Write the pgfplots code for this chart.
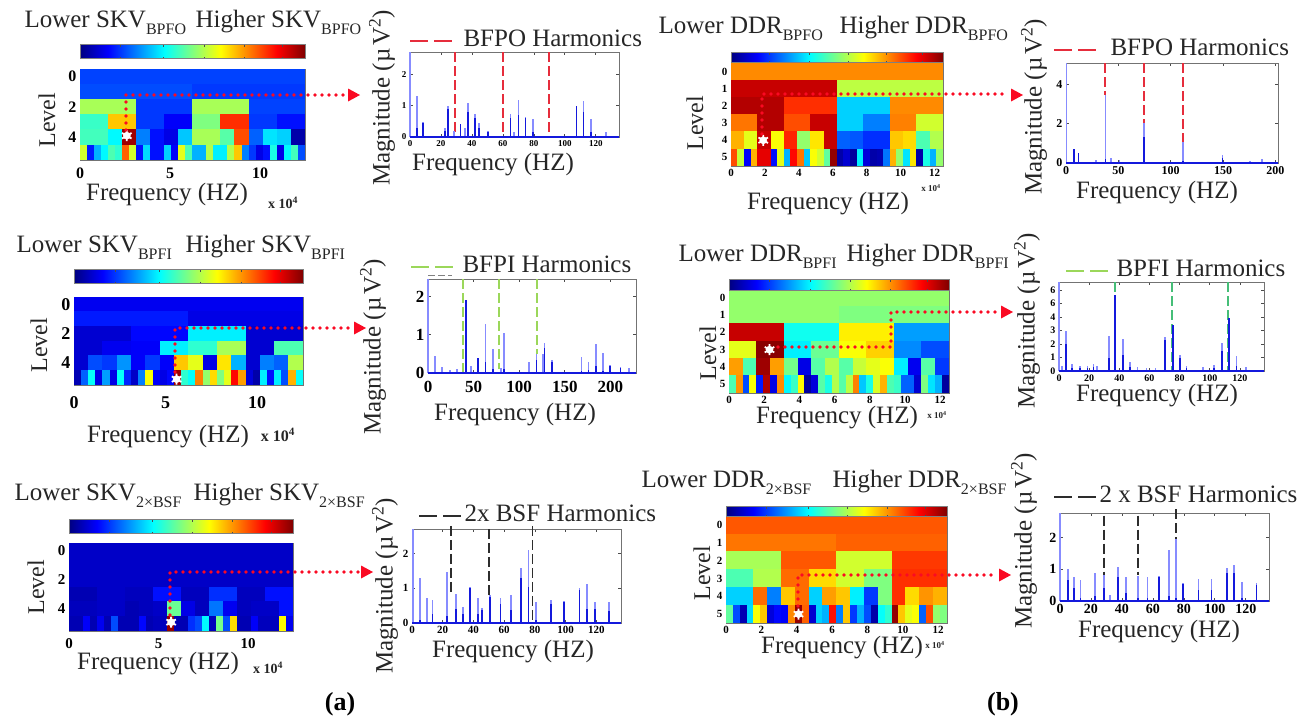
\documentclass[border=0pt]{standalone}
\usepackage{fontspec}
\setmainfont{Liberation Serif}
\usepackage{pgfplots}
\pgfplotsset{compat=1.18}
\newdimen\cw \newdimen\chh
\newcommand\tf[1]{\bfseries\fontsize{#1}{#1}\selectfont}
\newcommand\fs[1]{\fontsize{#1}{#1}\selectfont}
\newcommand\defcell[1]{\pgfdeclareplotmark{cell#1}{\pgfpathrectangle{\pgfpoint{-\cw/(2*#1)-0.2pt}{-\chh/2-0.2pt}}{\pgfpoint{\cw/#1+0.4pt}{\chh+0.4pt}}\pgfusepathqfill}}
\defcell{1}\defcell{2}\defcell{4}\defcell{8}\defcell{16}\defcell{32}
\newcommand\setcell[4]{\global\cw=\numexpr#3-#1\relax pt \global\chh=\dimexpr\numexpr#4-#2\relax pt/6\relax}
\newcommand\krow[3]{\addplot[scatter,only marks,mark=cell#2,point meta=explicit] table[row sep=\\,header=false,x expr={(\coordindex+0.5)*12.5/#2},y expr=#1,meta index=0]{#3};}
\newcommand\starat[2]{\addplot[only marks,mark=*,white,mark size=3.6pt] coordinates {(#1,#2)};\addplot[only marks,mark=asterisk,mark options={white,line width=1.8pt},mark size=5.5pt] coordinates {(#1,#2)};}
\pgfplotsset{
 allax/.style={scale only axis,enlargelimits=false,tick align=inside,major tick length=3pt,
   axis line style={line width=.9pt,draw=black!55},tick style={line width=.7pt,black!70},
   /pgf/number format/assume math mode=true},
 heat/.style n args={6}{allax,anchor=south west,at={(#1pt,-#4pt)},width={\the\numexpr#3-#1\relax pt},height={\the\numexpr#4-#2\relax pt},
   xmin=0,xmax=12.5,ymin=-0.5,ymax=5.5,y dir=reverse,colormap/jet,point meta min=0,point meta max=1,
   colorbar horizontal,colorbar style={scale only axis,at={(parent axis.north west)},anchor=south west,yshift=#6pt,
     width={\the\numexpr#3-#1\relax pt},height=#5pt,xtick={0.18,0.37,0.55,0.73,0.9},xticklabels={},ytick=\empty,
     axis line style={line width=.6pt,draw=black!50},major tick length=2pt,tick align=inside,tick style={black!70}}},
 spec/.style n args={6}{allax,anchor=south west,at={(#1pt,-#4pt)},width={\the\numexpr#3-#1\relax pt},height={\the\numexpr#4-#2\relax pt},
   xmin=0,xmax=#5,ymin=0,ymax=#6,clip=false},
}
\definecolor{lightb}{RGB}{135,140,255}
\definecolor{darkb}{RGB}{20,25,220}
\definecolor{hred}{RGB}{230,45,60}
\definecolor{hgreen}{RGB}{155,215,90}
\definecolor{hteal}{RGB}{70,190,120}
\definecolor{hblack}{RGB}{45,45,45}
\definecolor{arrowred}{RGB}{250,10,35}
\newcommand\lightsp[1]{\addplot[ycomb,no marks,lightb,line width=1.7pt] coordinates {#1};}
\newcommand\darksp[1]{\addplot[ycomb,no marks,darkb,line width=1.7pt] coordinates {#1};}
\newcommand\bline[1]{\addplot[no marks,darkb,line width=2.4pt] coordinates {(0,0.0)(#1,0.0)};}
\newcommand\harm[2]{\addplot[no marks,#1,line width=1.9pt,dash pattern=on 10pt off 4pt] coordinates {#2};}
\newcommand\subt[1]{\raisebox{-0.28em}{\fs{16}#1}}
\newcommand\LBL[4]{\node[anchor=base west,font=\fs{25},text=black!85] at (#1,#3) {Lower #4};}
\newcommand\HBL[4]{\node[anchor=base west,font=\fs{25},text=black!85] at (#1,#3) {Higher #4};}
\newcommand\freqt[2]{\node[font=\fs{25},text=black!85] at (#1,#2) {Frequency (HZ)};}
\newcommand\levt[2]{\node[rotate=90,font=\fs{24},text=black!85] at (#1,#2) {Level};}
\newcommand\magt[2]{\node[rotate=90,font=\fs{25},text=black!85] at (#1,#2) {Magnitude (\kern1pt µ\kern2pt V\textsuperscript{2})};}
\newcommand\expot[3]{\node[font=\tf{#3},text=black!85] at (#1,#2) {x 10\textsuperscript{4}};}
\newcommand\hleg[5]{\draw[#3,line width=2.2pt,dash pattern=on 18pt off 6pt] (#1,#2)--+(42,0);\node[anchor=base west,font=\fs{25},text=black!85] at (#4,#2+5) {#5};}
\newcommand\dotarrow[2]{\draw[arrowred,line width=3.8pt,line cap=round,dash pattern=on 0pt off 7pt] #1;\fill[arrowred] #2 ++(0,-6.5)--++(12,6.5)--++(-12,6.5)--cycle;}
\begin{document}
\begin{tikzpicture}[x=1pt,y=-1pt]
\path[use as bounding box] (0,0) rectangle (1306,724);

% ---------- A1 SKV BPFO
\setcell{80}{69}{305}{160}
\begin{axis}[heat={80}{69}{305}{160}{14}{19},xtick={0,5,10},ytick={0,2,4},tick label style={font=\tf{16}},xticklabel style={yshift=-4pt}]
\krow{0}{1}{0.19\\}
\krow{1}{2}{0.2\\0.18\\}
\krow{2}{4}{0.54\\0.18\\0.54\\0.19\\}
\krow{3}{8}{0.43\\0.68\\0.18\\0.12\\0.5\\0.83\\0.18\\0.14\\}
\krow{4}{16}{0.44\\0.44\\0.37\\0.97\\0.25\\0.14\\0.1\\0.32\\0.54\\0.54\\0.46\\0.8\\0.22\\0.35\\0.33\\0.04\\}
\krow{5}{32}{0.58\\0.15\\0.3\\0.37\\0.45\\0.42\\0.78\\0.58\\0.14\\0.34\\0.14\\0.14\\0.33\\0.12\\0.6\\0.45\\0.3\\0.3\\0.55\\0.36\\0.36\\0.55\\0.68\\0.25\\0.18\\0.1\\0.14\\0.4\\0.1\\0.37\\0.44\\0.2\\}
\starat{2.6}{3.9}
\end{axis}
% ---------- A2 SKV BPFI
\setcell{74}{297}{303}{385}
\begin{axis}[heat={74}{297}{303}{385}{14}{22},xtick={0,5,10},ytick={0,2,4},tick label style={font=\tf{18}},xticklabel style={yshift=-8pt}]
\krow{0}{1}{0.11\\}
\krow{1}{2}{0.15\\0.1\\}
\krow{2}{4}{0.08\\0.13\\0.36\\0.08\\}
\krow{3}{8}{0.08\\0.11\\0.12\\0.36\\0.42\\0.54\\0.08\\0.45\\}
\krow{4}{16}{0.08\\0.2\\0.18\\0.27\\0.12\\0.18\\0.12\\0.68\\0.6\\0.1\\0.65\\0.3\\0.08\\0.25\\0.22\\0.55\\}
\krow{5}{32}{0.05\\0.22\\0.38\\0.1\\0.28\\0.1\\0.38\\0.16\\0.07\\0.25\\0.62\\0.12\\0.1\\0.13\\0.97\\0.42\\0.38\\0.75\\0.52\\0.66\\0.5\\0.6\\0.87\\0.72\\0.09\\0.04\\0.36\\0.14\\0.36\\0.2\\0.7\\0.38\\}
\starat{5.6}{5.1}
\end{axis}
% ---------- A3 SKV 2xBSF
\setcell{69}{543}{293}{631}
\begin{axis}[heat={69}{543}{293}{631}{14}{18},xtick={0,5,10},ytick={0,2,4},tick label style={font=\tf{15}},xticklabel style={yshift=-4pt}]
\krow{0}{1}{0.07\\}
\krow{1}{2}{0.07\\0.07\\}
\krow{2}{4}{0.07\\0.07\\0.07\\0.07\\}
\krow{3}{8}{0.05\\0.07\\0.06\\0.14\\0.06\\0.17\\0.06\\0.14\\}
\krow{4}{16}{0.06\\0.06\\0.07\\0.07\\0.05\\0.06\\0.07\\0.48\\0.1\\0.06\\0.24\\0.11\\0.06\\0.07\\0.07\\0.14\\}
\krow{5}{32}{0.05\\0.05\\0.12\\0.05\\0.11\\0.05\\0.2\\0.05\\0.05\\0.05\\0.13\\0.05\\0.06\\0.06\\0.98\\0.05\\0.05\\0.17\\0.2\\0.37\\0.06\\0.49\\0.2\\0.66\\0.05\\0.05\\0.12\\0.06\\0.06\\0.06\\0.63\\0.11\\}
\starat{5.7}{4.9}
\end{axis}
% ---------- B1 DDR BPFO
\setcell{731}{63}{943}{166}
\begin{axis}[heat={731}{63}{943}{166}{10}{9},xtick={0,2,...,12},ytick={0,...,5},tick label style={font=\tf{11}}]
\krow{0}{1}{0.74\\}
\krow{1}{2}{0.93\\0.56\\}
\krow{2}{4}{0.95\\0.83\\0.33\\0.74\\}
\krow{3}{8}{0.76\\0.95\\0.8\\0.93\\0.33\\0.25\\0.75\\0.58\\}
\krow{4}{16}{0.7\\0.6\\0.93\\0.62\\0.84\\0.52\\0.65\\0.93\\0.22\\0.21\\0.17\\0.17\\0.68\\0.66\\0.45\\0.55\\}
\krow{5}{32}{0.8\\0.57\\0.12\\0.7\\0.9\\0.9\\0.14\\0.6\\0.3\\0.87\\0.76\\0.32\\0.62\\0.58\\0.47\\0.98\\0.04\\0.08\\0.03\\0.36\\0.09\\0.04\\0.05\\0.24\\0.7\\0.52\\0.35\\0.65\\0.04\\0.4\\0.3\\0.52\\}
\starat{1.9}{4}
\end{axis}
% ---------- B2 DDR BPFI
\setcell{729}{289}{949}{393}
\begin{axis}[heat={729}{289}{949}{393}{11}{7},xtick={0,2,...,12},ytick={0,...,5},tick label style={font=\tf{11}}]
\krow{0}{1}{0.52\\}
\krow{1}{2}{0.52\\0.5\\}
\krow{2}{4}{0.93\\0.39\\0.64\\0.28\\}
\krow{3}{8}{0.6\\0.99\\0.36\\0.48\\0.62\\0.67\\0.26\\0.2\\}
\krow{4}{16}{0.72\\0.45\\0.97\\0.72\\0.49\\0.1\\0.46\\0.55\\0.46\\0.57\\0.6\\0.62\\0.36\\0.11\\0.46\\0.18\\}
\krow{5}{32}{0.45\\0.73\\0.2\\0.62\\0.15\\0.95\\0.1\\0.74\\0.37\\0.43\\0.63\\0.03\\0.09\\0.46\\0.4\\0.55\\0.46\\0.56\\0.75\\0.32\\0.4\\0.59\\0.7\\0.45\\0.43\\0.22\\0.22\\0.08\\0.5\\0.35\\0.3\\0.03\\}
\starat{2.3}{3}
\end{axis}
% ---------- B3 DDR 2xBSF
\setcell{726}{516}{947}{623}
\begin{axis}[heat={726}{516}{947}{623}{10}{8},xtick={0,2,...,12},ytick={0,...,5},tick label style={font=\tf{11}}]
\krow{0}{1}{0.79\\}
\krow{1}{2}{0.76\\0.78\\}
\krow{2}{4}{0.54\\0.79\\0.58\\0.82\\}
\krow{3}{8}{0.45\\0.55\\0.77\\0.66\\0.58\\0.5\\0.83\\0.83\\}
\krow{4}{16}{0.33\\0.33\\0.77\\0.25\\0.68\\0.77\\0.33\\0.72\\0.68\\0.36\\0.18\\0.5\\0.83\\0.66\\0.73\\0.7\\}
\krow{5}{32}{0.47\\0.2\\0.05\\0.34\\0.62\\0.68\\0.09\\0.13\\0.12\\0.74\\0.98\\0.78\\0.08\\0.33\\0.3\\0.86\\0.25\\0.68\\0.18\\0.3\\0.2\\0.04\\0.38\\0.42\\0.98\\0.68\\0.6\\0.62\\0.22\\0.8\\0.52\\0.5\\}
\starat{4.1}{5}
\end{axis}

% ---------- C1
\begin{axis}[spec={410}{52}{619}{137}{135}{2.7},xtick={0,20,...,120},ytick={0,1,2},tick label style={font=\tf{9}}]
\harm{hred}{(28.8,2.7)(28.8,0)}\harm{hred}{(60.2,2.7)(60.2,0)}\harm{hred}{(89.5,2.7)(89.5,0)}
\lightsp{(0.2,2.7)(4.7,1.3)(8.6,0.47)(22.6,0.3)(24.5,0.97)(28.6,0.2)(32.7,0.42)(35.7,0.3)(37.4,1.07)(42,0.73)(44.7,0.45)(50.5,0.2)(65,0.72)(67.3,0.15)(70,1.18)(74.6,0.62)(79.6,0.58)(107.5,1.0)(112,1.13)(117,0.58)(126.5,0.15)}
\darksp{(4.7,0.3)(8.6,0.45)(22.6,0.2)(24.5,0.9)(32.7,0.4)(37.4,0.8)(42,0.6)(44.7,0.3)(50.5,0.15)(65,0.6)(70,0.7)(74.6,0.6)(79.6,0.15)(107.5,0.98)(112,0.8)(117,0.15)}
\bline{135}
\end{axis}
% ---------- C2
\begin{axis}[spec={428}{279}{636}{373}{228}{2.46},xtick={0,50,...,200},ytick={0,1,2},tick label style={font=\tf{17}},xticklabel style={yshift=-5pt}]
\harm{hgreen}{(37.9,2.46)(37.9,0)}\harm{hgreen}{(78.3,2.46)(78.3,0.1)}\harm{hgreen}{(119.5,2.46)(119.5,0.5)}
\lightsp{(0.2,2.46)(7.4,0.45)(15.4,0.15)(24,0.07)(32,0.1)(41.5,1.92)(47.4,0.18)(55,0.4)(62.9,1.27)(71.3,0.63)(80,0.12)(83.5,1.05)(111,0.3)(119,0.5)(126,0.5)(127.6,0.78)(136,0.35)(168.4,0.42)(176,0.28)(183.8,0.77)(191.5,0.52)(199.6,0.22)(211,0.17)(220.6,0.13)}
\darksp{(41.5,1.9)(55,0.38)(62.9,0.3)(71.3,0.1)(83.5,0.1)(119,0.35)(127.6,0.65)(136,0.3)(168.4,0.05)(176,0.08)(183.8,0.18)(191.5,0.05)(199.6,0.18)(211,0.12)(220.6,0.03)}
\bline{228}
\end{axis}
% ---------- C3
\begin{axis}[spec={412}{529}{621}{623}{136}{2.71},xtick={0,20,...,120},ytick={0,1,2},tick label style={font=\tf{11}}]
\harm{hblack}{(25.3,2.8)(25.3,0.9)}\harm{hblack}{(50.3,2.71)(50.3,0.8)}\harm{hblack}{(78.4,2.8)(78.4,0)}
\lightsp{(0.6,2.7)(5.2,1.3)(9.6,0.73)(13.3,0.67)(22.9,1.47)(28.5,0.83)(33,0.45)(37.7,1.03)(42.9,0.72)(45.5,0.42)(50.8,0.8)(57.5,0.72)(64.5,0.8)(70.8,1.58)(75.8,2.1)(80.6,0.6)(90.6,0.66)(99,0.63)(109,1.0)(113.7,1.12)(119,0.62)(128,0.62)}
\darksp{(5.2,0.1)(13.3,0.25)(22.9,0.2)(28.5,0.4)(33,0.25)(37.7,1.0)(42.9,0.25)(45.5,0.38)(50.8,0.75)(57.5,0.55)(64.5,0.38)(70.8,1.3)(75.8,1.05)(80.6,0.1)(90.6,0.55)(99,0.6)(109,0.95)(113.7,0.4)(119,0.4)(128,0.35)}
\bline{136}
\end{axis}
% ---------- D1
\begin{axis}[spec={1066}{63}{1278}{163}{202.5}{5.1},xtick={0,50,...,200},ytick={0,2,4},tick label style={font=\tf{12}}]
\harm{hred}{(37.5,5.1)(37.5,3.45)}\harm{hred}{(74.4,5.1)(74.4,2.05)}\harm{hred}{(112,5.1)(112,1.05)}
\lightsp{(0.6,5.1)(7.6,0.7)(11.8,0.5)(28.6,0.15)(37.8,3.45)(43,0.25)(51,0.15)(74.7,2.05)(112,1.05)(149.4,0.42)(175.5,0.12)(187,0.2)}
\darksp{(7.6,0.7)(11.8,0.5)(37.8,0.2)(74.7,1.35)(112,0.1)(149.4,0.25)(187,0.05)}
\bline{202.5}
\end{axis}
% ---------- D2
\begin{axis}[spec={1059}{282}{1264}{371}{136}{6.6},xtick={0,20,...,120},ytick={0,...,6},yticklabels={0,1,2,3,4,6,6},tick label style={font=\tf{10}}]
\harm{hteal}{(36.9,6.6)(36.9,0)}\harm{hteal}{(75.1,6.6)(75.1,0)}\harm{hteal}{(112,6.6)(112,0)}
\lightsp{(0.2,6.6)(2,0.4)(4.6,3.0)(8.6,0.5)(14,0.35)(18.8,0.4)(22.8,0.55)(25.4,0.4)(33,2.6)(37.3,5.6)(42.4,2.35)(47,0.7)(52,0.3)(58,0.25)(64,0.25)(70.5,2.5)(75.6,3.4)(80.2,1.2)(84.6,0.35)(95.7,0.3)(103,0.45)(108,2.1)(113,3.9)(117.8,1.1)(124,0.3)}
\darksp{(4.6,2.0)(8.6,0.2)(14,0.25)(18.8,0.2)(22.8,0.3)(33,1.0)(37.3,5.6)(42.4,1.2)(47,0.3)(70.5,2.3)(75.6,3.4)(80.2,1.0)(84.6,0.2)(103,0.2)(108,1.5)(113,3.9)(117.8,0.4)}
\bline{136}
\end{axis}
% ---------- D3
\begin{axis}[spec={1060}{513}{1269}{601}{135}{2.78},xtick={0,20,...,120},ytick={0,1,2},tick label style={font=\tf{14}}]
\harm{hblack}{(28.4,2.7)(28.4,0.82)}\harm{hblack}{(50.3,2.7)(50.3,0.82)}\harm{hblack}{(74.8,2.9)(74.8,1.95)}
\lightsp{(0.2,2.78)(5,1.0)(9.2,0.75)(13.3,0.65)(22.6,0.9)(28.4,0.82)(32.3,0.18)(37.4,1.07)(42.4,0.75)(50.5,0.8)(56.6,0.75)(63.9,0.78)(70.3,1.62)(74.8,1.95)(79.6,0.58)(89.5,0.7)(97.8,0.7)(108,1.05)(112.5,1.13)(117.6,0.6)(127,0.58)}
\darksp{(5,0.65)(9.2,0.4)(13.3,0.1)(22.6,0.15)(28.4,0.4)(37.4,0.75)(42.4,0.25)(50.5,0.1)(56.6,0.1)(63.9,0.75)(70.3,0.15)(74.8,0.1)(79.6,0.55)(89.5,0.35)(97.8,0.35)(108,0.9)(112.5,0.9)(117.6,0.1)(127,0.5)}
\bline{135}
\end{axis}

% ---------- Titles
\LBL{21}{0}{27}{SKV\subt{BPFO}}\HBL{192}{0}{27}{SKV\subt{BPFO}}
\LBL{13}{0}{252}{SKV\subt{BPFI}}\HBL{182}{0}{252}{SKV\subt{BPFI}}
\LBL{11}{0}{500}{SKV\subt{2×BSF}}\HBL{190}{0}{500}{SKV\subt{2×BSF}}
\LBL{655}{0}{33}{DDR\subt{BPFO}}\HBL{836}{0}{33}{DDR\subt{BPFO}}
\LBL{675}{0}{261}{DDR\subt{BPFI}}\HBL{843}{0}{261}{DDR\subt{BPFI}}
\LBL{638}{0}{487}{DDR\subt{2×BSF}}\HBL{829}{0}{487}{DDR\subt{2×BSF}}
% ---------- Axis texts
\freqt{167}{195}\levt{47}{120}\expot{283}{203}{14}
\freqt{168}{437}\levt{39}{345}\expot{278}{435}{16}
\freqt{158}{664}\levt{36}{587}\expot{268}{668}{14}
\freqt{828}{204}\levt{695}{123}\expot{931}{188}{9}
\freqt{837}{418}\levt{708}{353}\expot{937}{415}{9}
\freqt{842}{648}\levt{702}{573}\expot{935}{645}{9}
\freqt{493}{165}\magt{382}{98}
\freqt{515}{415}\magt{373}{347}
\freqt{513}{652}\magt{385}{586}
\freqt{1157}{193}\magt{1034}{107}
\freqt{1157}{396}\magt{1027}{321}
\freqt{1159}{632}\magt{1024}{541}
% ---------- Legends
\hleg{410}{41}{hred}{460}{BFPO Harmonics}
\hleg{411}{267}{hgreen}{459}{BFPI Harmonics}
\draw[gray,line width=1pt,dash pattern=on 7pt off 3pt] (428,275)--(452,275);
\hleg{419}{516}{hblack}{461}{2x BSF Harmonics}
\hleg{1054}{50}{hred}{1107}{BFPO Harmonics}
\hleg{1066}{271}{hgreen}{1113}{BPFI Harmonics}
\hleg{1054}{497}{hblack}{1096}{2 x BSF Harmonics}
% ---------- Arrows
\dotarrow{(126,130)--(126,95)--(346,95)}{(348,95)}
\dotarrow{(175,372)--(175,328)--(354,328)}{(354,328)}
\dotarrow{(170,615)--(170,572)--(360,572)}{(361,572)}
\dotarrow{(762,134)--(762,94)--(1009,94)}{(1011,95)}
\dotarrow{(778,347)--(891,347)--(891,312)--(1000,312)}{(1001,312)}
\dotarrow{(798,606)--(798,575)--(998,575)}{(999,575)}
% ---------- Panel labels
\node[font=\tf{26}] at (340,704) {(a)};
\node[font=\tf{26}] at (1003,704) {(b)};
\end{tikzpicture}
\end{document}
